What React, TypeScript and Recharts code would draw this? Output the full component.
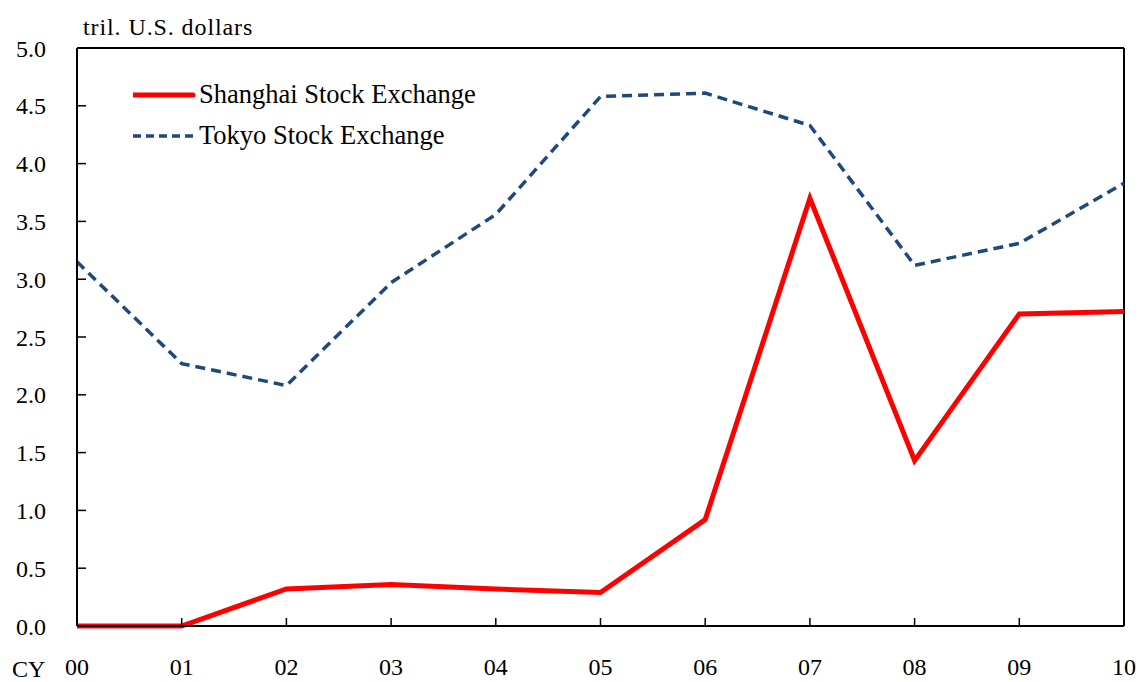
import { LineChart, Line, XAxis, YAxis, Legend, ReferenceLine, Label } from 'recharts'

const years = ['00', '01', '02', '03', '04', '05', '06', '07', '08', '09', '10']
const shanghai = [0.0, 0.0, 0.32, 0.36, 0.32, 0.29, 0.92, 3.7, 1.43, 2.7, 2.72]
const tokyo = [3.15, 2.27, 2.08, 2.97, 3.56, 4.58, 4.61, 4.33, 3.12, 3.31, 3.83]
const yTicks = [0, 0.5, 1, 1.5, 2, 2.5, 3, 3.5, 4, 4.5, 5]

const data = years.map((year, i) => ({
  year,
  shanghai: shanghai[i],
  tokyo: tokyo[i]
}))

const FONT = '"Liberation Serif", "Times New Roman", serif'
const Y_MARGIN = 31
const X_MARGIN = 32

const swatches: Record<string, { stroke: string; width: number; dash?: string }> = {
  shanghai: { stroke: '#FF0000', width: 5 },
  tokyo: { stroke: '#1F497D', width: 3.5, dash: '8 5' }
}

// tick label plus a short inward tick mark from the axis line
const YTick = ({ x, y, payload }: any) => (
  <g>
    <line x1={x + Y_MARGIN} x2={x + Y_MARGIN + 9} y1={y} y2={y} stroke="#000" strokeWidth={1.5} />
    <text x={x} y={y} dy={8.5} textAnchor="end" fill="#000" fontSize={24} fontFamily={FONT}>
      {Number(payload.value).toFixed(1)}
    </text>
  </g>
)

const XTick = ({ x, y, payload }: any) => (
  <g>
    <line x1={x} x2={x} y1={y - X_MARGIN} y2={y - X_MARGIN - 8} stroke="#000" strokeWidth={1.5} />
    <text x={x} y={y} dy={17} textAnchor="middle" fill="#000" fontSize={24} fontFamily={FONT}>
      {payload.value}
    </text>
  </g>
)

const LegendBox = ({ payload }: any) => (
  <div style={{ fontFamily: FONT, fontSize: 26.5, color: '#000' }}>
    {(payload || []).map((entry: any) => {
      const s = swatches[entry.dataKey]
      return (
        <div key={entry.dataKey} style={{ display: 'flex', alignItems: 'center', height: 41 }}>
          <svg width={66} height={10} style={{ display: 'block' }}>
            <line x1={0} x2={60} y1={5} y2={5} stroke={s.stroke} strokeWidth={s.width}
              strokeDasharray={s.dash} strokeLinecap={s.dash ? 'butt' : 'round'} />
          </svg>
          <span style={{ whiteSpace: 'nowrap' }}>{entry.value}</span>
        </div>
      )
    })}
  </div>
)

export default function App() {
  return (
    <div style={{ position: 'absolute', left: 0, top: 0, width: 1142, height: 682, background: '#fff' }}>
      <LineChart
        width={1142}
        height={682}
        data={data}
        margin={{ top: 48, right: 18, left: 0, bottom: 0 }}
        style={{ fontFamily: FONT }}
      >
        <XAxis
          dataKey="year"
          height={56}
          axisLine={{ stroke: '#000', strokeWidth: 2 }}
          tickLine={false}
          tickSize={0}
          tickMargin={X_MARGIN}
          tick={<XTick />}
          interval={0}
        >
          <Label
            content={() => (
              <text x={12} y={677} fill="#000" fontSize={24} fontFamily={FONT}>CY</text>
            )}
          />
        </XAxis>
        <YAxis
          domain={[0, 5]}
          ticks={yTicks}
          width={77}
          axisLine={{ stroke: '#000', strokeWidth: 2 }}
          tickLine={false}
          tickSize={0}
          tickMargin={Y_MARGIN}
          tick={<YTick />}
          interval={0}
        >
          <Label
            content={() => (
              <text x={83} y={35} fill="#000" fontSize={24} fontFamily={FONT} letterSpacing={0.9}>
                tril. U.S. dollars
              </text>
            )}
          />
        </YAxis>
        <ReferenceLine y={5} stroke="#000" strokeWidth={2} />
        <ReferenceLine x="10" stroke="#000" strokeWidth={2} />
        <Legend
          layout="vertical"
          align="center"
          verticalAlign="middle"
          content={<LegendBox />}
          wrapperStyle={{ left: 133, top: 74, width: 420, height: 82 }}
        />
        <Line
          dataKey="shanghai"
          name="Shanghai Stock Exchange"
          stroke="#FF0000"
          strokeWidth={5}
          dot={false}
          activeDot={false}
          isAnimationActive={false}
        />
        <Line
          dataKey="tokyo"
          name="Tokyo Stock Exchange"
          stroke="#1F497D"
          strokeWidth={3.5}
          strokeDasharray="10 6"
          dot={false}
          activeDot={false}
          isAnimationActive={false}
        />
      </LineChart>
    </div>
  )
}
